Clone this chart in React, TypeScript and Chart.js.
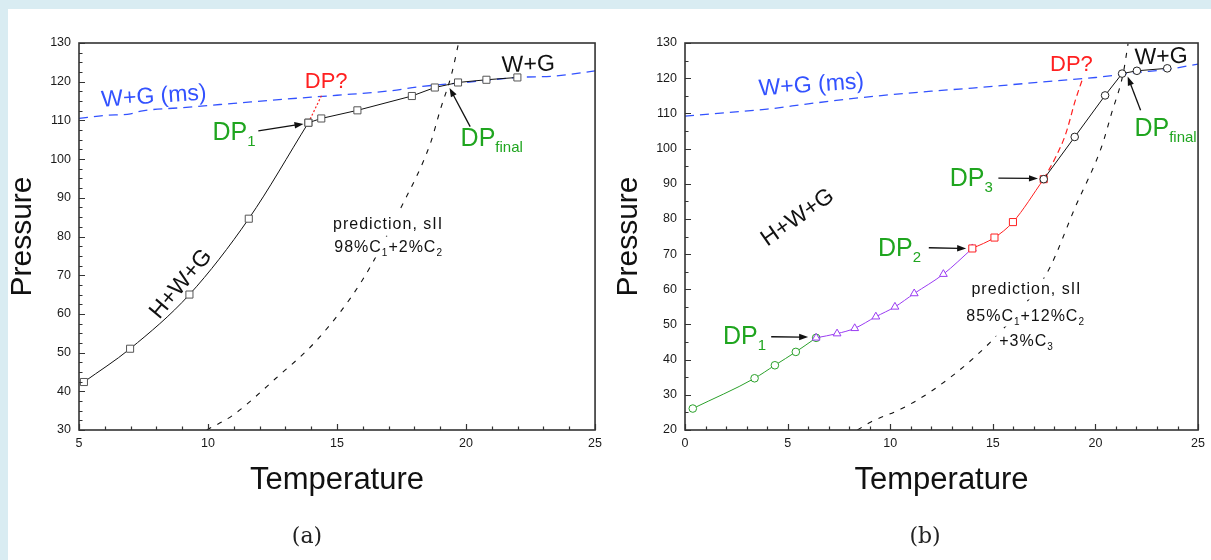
import React, { useEffect, useRef } from "react";
import { Chart, registerables } from "chart.js";

Chart.register(...registerables);

const FONT = '"Liberation Sans", Arial, Helvetica, sans-serif';

// ---------- Chart (a) data ----------
// hydrate (H+W+G) branch, up to DP1
const aHydTemp = [5.19, 6.98, 9.28, 11.58, 13.89];
const aHydPress = [42.4, 51.0, 65.0, 84.6, 109.4];
// W+G branch, from DP1
const aWgTemp = [13.89, 14.39, 15.79, 17.9, 18.79, 19.69, 20.79, 21.99];
const aWgPress = [109.4, 110.5, 112.6, 116.3, 118.5, 119.8, 120.5, 121.1];
const aMsTemp = [5, 6, 7, 7.4, 9, 11, 13, 15, 17, 18.2, 20, 22, 23.5, 25];
const aMsPress = [110.5, 111.3, 111.7, 112.4, 113.3, 114.4, 115.5, 116.5, 117.6, 118.7, 119.8, 121.1, 121.5, 122.8];
const aDpTemp = [13.89, 14.42];
const aDpPress = [109.4, 116.7];
const aPredTemp = [9.95, 10.96, 12.62, 14.27, 15.98, 17.49, 18.62, 19.0, 19.45, 19.71];
const aPredPress = [30, 33.8, 43.3, 53.6, 68.7, 87.6, 104.1, 112.7, 122.2, 130];

// ---------- Chart (b) data ----------
const bGreenTemp = [0.38, 3.39, 4.38, 5.4, 6.39];
const bGreenPress = [26.1, 34.7, 38.4, 42.2, 46.2];
const bPurpleTemp = [6.39, 7.41, 8.27, 9.3, 10.23, 11.17, 12.59, 14.0];
const bPurplePress = [46.2, 47.4, 48.9, 52.2, 55.0, 58.8, 64.3, 71.6];
const bRedTemp = [14.0, 15.08, 15.98, 17.48];
const bRedPress = [71.6, 74.7, 79.1, 91.3];
const bBlackTemp = [17.48, 18.99, 20.47, 21.3, 22.02, 23.5];
const bBlackPress = [91.3, 103.3, 115.1, 121.3, 122.1, 122.8];
const bMsTemp = [0, 2, 4, 6, 8, 10, 12, 14, 16, 18, 20, 22, 23.5, 25];
const bMsPress = [109.2, 110.2, 111.2, 112.7, 114.1, 115.3, 116.3, 117.2, 118.2, 119.2, 120.2, 121.6, 122.5, 124.0];
const bDpTemp = [17.48, 18.1, 18.56, 19.02, 19.4];
const bDpPress = [91.3, 98.0, 104.3, 113.7, 120.3];
const bPredTemp = [8.4, 9.06, 10.57, 12.07, 14.13, 16.0, 17.71, 19.02, 20.3, 20.78, 21.35, 21.59];
const bPredPress = [20, 22.3, 26.1, 31.3, 40.8, 52.0, 65.4, 83.4, 100.5, 109.9, 121.3, 129.8];

// ---------- axes ----------
const aXTicks = { min: 5, max: 25, major: 5, minor: 1 };
const aYTicks = { min: 30, max: 130, major: 10, minor: 2.5 };
const bXTicks = { min: 0, max: 25, major: 5, minor: 1 };
const bYTicks = { min: 20, max: 130, major: 10, minor: 5 };

const GREEN = "#1fa51f";
const BLUE = "#3352ff";
const RED = "#ff2020";
const PURPLE = "#9a3cf2";

type Seg = { t: string; sub?: boolean };
type Ann =
  | { kind: "text"; x: number; y: number; segs: Seg[]; size: number; color: string; rot?: number; align?: "center" | "left"; bg?: boolean; spacing?: number }
  | { kind: "arrow"; x1: number; y1: number; x2: number; y2: number };

const aAnnotations: Ann[] = [
  { kind: "text", x: 7.9, y: 116.6, segs: [{ t: "W+G (ms)" }], size: 23, color: BLUE, rot: -4, align: "center" },
  { kind: "text", x: 14.58, y: 120.4, segs: [{ t: "DP?" }], size: 22, color: RED, align: "center" },
  { kind: "text", x: 10.17, y: 107.2, segs: [{ t: "DP" }, { t: "1", sub: true }], size: 25, color: GREEN, align: "left" },
  { kind: "arrow", x1: 11.95, y1: 107.3, x2: 13.7, y2: 109.1 },
  { kind: "text", x: 22.41, y: 124.8, segs: [{ t: "W+G" }], size: 23, color: "#111", align: "center", rot: -2 },
  { kind: "text", x: 19.79, y: 105.6, segs: [{ t: "DP" }, { t: "final", sub: true }], size: 25, color: GREEN, align: "left" },
  { kind: "arrow", x1: 20.16, y1: 108.4, x2: 19.36, y2: 118.4 },
  { kind: "text", x: 16.98, y: 83.4, segs: [{ t: "prediction, sII" }], size: 16, color: "#111", align: "center", bg: true, spacing: 1 },
  { kind: "text", x: 17.0, y: 77.4, segs: [{ t: "98%C" }, { t: "1", sub: true }, { t: "+2%C" }, { t: "2", sub: true }], size: 16, color: "#111", align: "center", bg: true, spacing: 1 },
  { kind: "text", x: 8.9, y: 68.0, segs: [{ t: "H+W+G" }], size: 23, color: "#111", rot: -50, align: "center" },
];

const bAnnotations: Ann[] = [
  { kind: "text", x: 6.15, y: 118.5, segs: [{ t: "W+G (ms)" }], size: 23, color: BLUE, rot: -4, align: "center" },
  { kind: "text", x: 18.83, y: 124.2, segs: [{ t: "DP?" }], size: 22, color: RED, align: "center" },
  { kind: "text", x: 23.2, y: 126.5, segs: [{ t: "W+G" }], size: 23, color: "#111", align: "center", rot: -2 },
  { kind: "text", x: 21.9, y: 106.1, segs: [{ t: "DP" }, { t: "final", sub: true }], size: 25, color: GREEN, align: "left" },
  { kind: "arrow", x1: 22.2, y1: 110.9, x2: 21.57, y2: 120.5 },
  { kind: "text", x: 12.9, y: 91.9, segs: [{ t: "DP" }, { t: "3", sub: true }], size: 25, color: GREEN, align: "left" },
  { kind: "arrow", x1: 15.27, y1: 91.6, x2: 17.2, y2: 91.5 },
  { kind: "text", x: 9.4, y: 72.0, segs: [{ t: "DP" }, { t: "2", sub: true }], size: 25, color: GREEN, align: "left" },
  { kind: "arrow", x1: 11.88, y1: 71.8, x2: 13.7, y2: 71.6 },
  { kind: "text", x: 1.85, y: 47.0, segs: [{ t: "DP" }, { t: "1", sub: true }], size: 25, color: GREEN, align: "left" },
  { kind: "arrow", x1: 4.2, y1: 46.5, x2: 6.0, y2: 46.4 },
  { kind: "text", x: 5.44, y: 80.8, segs: [{ t: "H+W+G" }], size: 23, color: "#111", rot: -35, align: "center" },
  { kind: "text", x: 16.64, y: 60.2, segs: [{ t: "prediction, sII" }], size: 16, color: "#111", align: "center", bg: true, spacing: 1 },
  { kind: "text", x: 16.6, y: 52.5, segs: [{ t: "85%C" }, { t: "1", sub: true }, { t: "+12%C" }, { t: "2", sub: true }], size: 16, color: "#111", align: "center", bg: true, spacing: 1 },
  { kind: "text", x: 16.64, y: 45.4, segs: [{ t: "+3%C" }, { t: "3", sub: true }], size: 16, color: "#111", align: "center", bg: true, spacing: 1 },
];

function zip(xs: number[], ys: number[]) {
  return xs.map((x, i) => ({ x, y: ys[i] }));
}

function drawRich(ctx: CanvasRenderingContext2D, x: number, y: number, a: any) {
  const size = a.size;
  const subSize = Math.round(size * 0.6);
  ctx.save();
  ctx.translate(x, y);
  ctx.rotate(((a.rot || 0) * Math.PI) / 180);
  (ctx as any).letterSpacing = (a.spacing || 0) + "px";
  const widths = a.segs.map((s: Seg) => {
    ctx.font = `${s.sub ? subSize : size}px ${FONT}`;
    return ctx.measureText(s.t).width;
  });
  const total = widths.reduce((p: number, c: number) => p + c, 0);
  let cx = a.align === "left" ? 0 : -total / 2;
  const base = size * 0.36;
  if (a.bg) {
    ctx.fillStyle = "#ffffff";
    ctx.fillRect(cx - 3, -size * 0.62, total + 6, size * 1.3);
  }
  ctx.fillStyle = a.color;
  ctx.textBaseline = "alphabetic";
  ctx.textAlign = "left";
  a.segs.forEach((s: Seg, i: number) => {
    ctx.font = `${s.sub ? subSize : size}px ${FONT}`;
    ctx.fillText(s.t, cx, s.sub ? base + size * 0.24 : base);
    cx += widths[i];
  });
  ctx.restore();
}

function drawArrow(ctx: CanvasRenderingContext2D, x1: number, y1: number, x2: number, y2: number) {
  const ang = Math.atan2(y2 - y1, x2 - x1);
  const hl = 9;
  const hw = 3.2;
  ctx.save();
  ctx.strokeStyle = "#111";
  ctx.fillStyle = "#111";
  ctx.lineWidth = 1.3;
  ctx.beginPath();
  ctx.moveTo(x1, y1);
  ctx.lineTo(x2 - Math.cos(ang) * hl * 0.8, y2 - Math.sin(ang) * hl * 0.8);
  ctx.stroke();
  ctx.beginPath();
  ctx.moveTo(x2, y2);
  ctx.lineTo(x2 - Math.cos(ang) * hl - Math.sin(ang) * hw, y2 - Math.sin(ang) * hl + Math.cos(ang) * hw);
  ctx.lineTo(x2 - Math.cos(ang) * hl + Math.sin(ang) * hw, y2 - Math.sin(ang) * hl - Math.cos(ang) * hw);
  ctx.closePath();
  ctx.fill();
  ctx.restore();
}

function makeDecoPlugin(anns: Ann[], xt: any, yt: any, caption: string, captionDx: number) {
  return {
    id: "deco",
    afterDatasetsDraw(chart: any) {
      const ctx: CanvasRenderingContext2D = chart.ctx;
      const xs = chart.scales.x;
      const ys = chart.scales.y;
      anns.forEach((a) => {
        if (a.kind === "arrow") {
          drawArrow(ctx, xs.getPixelForValue(a.x1), ys.getPixelForValue(a.y1), xs.getPixelForValue(a.x2), ys.getPixelForValue(a.y2));
        } else {
          drawRich(ctx, xs.getPixelForValue(a.x), ys.getPixelForValue(a.y), a);
        }
      });
    },
    afterDraw(chart: any) {
      const ctx: CanvasRenderingContext2D = chart.ctx;
      const ca = chart.chartArea;
      const xs = chart.scales.x;
      const ys = chart.scales.y;
      ctx.save();
      // ticks (inward)
      ctx.strokeStyle = "#333";
      ctx.lineWidth = 1.2;
      ctx.beginPath();
      const nx = Math.round((xt.max - xt.min) / xt.minor);
      for (let i = 0; i <= nx; i++) {
        const v = xt.min + i * xt.minor;
        const px = Math.round(xs.getPixelForValue(v)) + 0.5;
        const isMajor = Math.abs(v / xt.major - Math.round(v / xt.major)) < 1e-6;
        const len = isMajor ? 6 : 3.5;
        ctx.moveTo(px, ca.bottom);
        ctx.lineTo(px, ca.bottom - len);
      }
      const ny = Math.round((yt.max - yt.min) / yt.minor);
      for (let i = 0; i <= ny; i++) {
        const v = yt.min + i * yt.minor;
        const py = Math.round(ys.getPixelForValue(v)) + 0.5;
        const isMajor = Math.abs(v / yt.major - Math.round(v / yt.major)) < 1e-6;
        const len = isMajor ? 6 : 3.5;
        ctx.moveTo(ca.left, py);
        ctx.lineTo(ca.left + len, py);
      }
      ctx.stroke();
      // frame
      ctx.strokeStyle = "#333";
      ctx.lineWidth = 1.6;
      ctx.strokeRect(ca.left, ca.top, ca.right - ca.left, ca.bottom - ca.top);
      // axis titles
      ctx.fillStyle = "#111";
      ctx.textAlign = "center";
      ctx.textBaseline = "middle";
      ctx.font = `31px ${FONT}`;
      ctx.fillText("Temperature", (ca.left + ca.right) / 2, ca.bottom + 50);
      ctx.save();
      ctx.font = `30px ${FONT}`;
      ctx.translate(ca.left - 56.5, (ca.top + ca.bottom) / 2);
      ctx.rotate(-Math.PI / 2);
      ctx.fillText("Pressure", 0, 0);
      ctx.restore();
      // caption
      ctx.font = `22px "DejaVu Serif", "Liberation Serif", serif`;
      ctx.fillStyle = "#222";
      ctx.fillText(caption, ca.left + captionDx, ca.bottom + 107);
      ctx.restore();
    },
  };
}

function scaleOpts(t: any, which: "x" | "y", size: number) {
  return {
    type: "linear" as const,
    min: t.min,
    max: t.max,
    ticks: {
      stepSize: t.major,
      font: { family: FONT, size: 12.5 },
      color: "#1a1a1a",
      padding: which === "x" ? 6 : 8,
      maxRotation: 0,
      autoSkip: false,
    },
    grid: { display: false, drawTicks: false },
    border: { display: false },
    afterFit: (s: any) => {
      if (which === "x") s.height = size;
      else s.width = size;
    },
  };
}

function lineDs(data: any[], color: string, opts: any = {}) {
  return {
    data,
    borderColor: color,
    backgroundColor: "#ffffff",
    borderWidth: 1,
    pointRadius: 0,
    showLine: true,
    fill: false,
    cubicInterpolationMode: "monotone",
    ...opts,
  };
}

function buildA(canvas: HTMLCanvasElement) {
  const sq = { pointStyle: "rect", pointRadius: 5, pointBorderColor: "#555", pointBackgroundColor: "#fff", pointBorderWidth: 1 };
  return new Chart(canvas, {
    type: "scatter",
    data: {
      datasets: [
        lineDs(zip(aWgTemp, aWgPress), "#111", { ...sq, cubicInterpolationMode: "default", tension: 0 }),
        lineDs(zip(aHydTemp, aHydPress), "#111", sq),
        lineDs(zip(aDpTemp, aDpPress), RED, { borderDash: [2, 2], borderWidth: 1.2 }),
        lineDs(zip(aMsTemp, aMsPress), BLUE, { borderDash: [9, 6], borderWidth: 1.3 }),
        lineDs(zip(aPredTemp, aPredPress), "#111", { borderDash: [5, 7], borderWidth: 1.1 }),
      ],
    } as any,
    options: {
      responsive: false,
      animation: false,
      layout: { padding: { top: 34, right: 11, bottom: 100, left: 0 } },
      plugins: { legend: { display: false }, tooltip: { enabled: false } },
      scales: { x: scaleOpts(aXTicks, "x", 30), y: scaleOpts(aYTicks, "y", 71) } as any,
    },
    plugins: [makeDecoPlugin(aAnnotations, aXTicks, aYTicks, "(a)", 228)],
  });
}

function buildB(canvas: HTMLCanvasElement) {
  const circle = { pointStyle: "circle", pointRadius: 3.8, pointBackgroundColor: "#fff", pointBorderWidth: 1 };
  return new Chart(canvas, {
    type: "scatter",
    data: {
      datasets: [
        lineDs(zip(bBlackTemp, bBlackPress), "#111", { ...circle, pointBorderColor: "#222", cubicInterpolationMode: "default", tension: 0 }),
        lineDs(zip(bRedTemp, bRedPress), RED, { pointStyle: "rect", pointRadius: 5, pointBorderColor: RED, pointBackgroundColor: "#fff", pointBorderWidth: 1 }),
        lineDs(zip(bPurpleTemp, bPurplePress), PURPLE, { pointStyle: "triangle", pointRadius: 4.5, pointBorderColor: PURPLE, pointBackgroundColor: "#fff", pointBorderWidth: 1 }),
        lineDs(zip(bGreenTemp, bGreenPress), "#2aa02a", { ...circle, pointBorderColor: "#2aa02a" }),
        lineDs(zip(bDpTemp, bDpPress), RED, { borderDash: [6, 4], borderWidth: 1.2 }),
        lineDs(zip(bMsTemp, bMsPress), BLUE, { borderDash: [9, 6], borderWidth: 1.3 }),
        lineDs(zip(bPredTemp, bPredPress), "#111", { borderDash: [5, 7], borderWidth: 1.1 }),
      ],
    } as any,
    options: {
      responsive: false,
      animation: false,
      layout: { padding: { top: 34, right: 9, bottom: 100, left: 0 } },
      plugins: { legend: { display: false }, tooltip: { enabled: false } },
      scales: { x: scaleOpts(bXTicks, "x", 30), y: scaleOpts(bYTicks, "y", 77) } as any,
    },
    plugins: [makeDecoPlugin(bAnnotations, bXTicks, bYTicks, "(b)", 240)],
  });
}

export default function App() {
  const ra = useRef<HTMLCanvasElement>(null);
  const rb = useRef<HTMLCanvasElement>(null);
  useEffect(() => {
    const ca = buildA(ra.current!);
    const cb = buildB(rb.current!);
    return () => {
      ca.destroy();
      cb.destroy();
    };
  }, []);
  return (
    <div style={{ position: "fixed", inset: 0, background: "#d9ecf2", overflow: "hidden" }}>
      <div style={{ position: "absolute", left: 8, top: 9, right: 0, bottom: 0, background: "#ffffff" }}>
        <canvas ref={ra} width={600} height={551} style={{ position: "absolute", left: 0, top: 0 }} />
        <canvas ref={rb} width={603} height={551} style={{ position: "absolute", left: 600, top: 0 }} />
      </div>
    </div>
  );
}
